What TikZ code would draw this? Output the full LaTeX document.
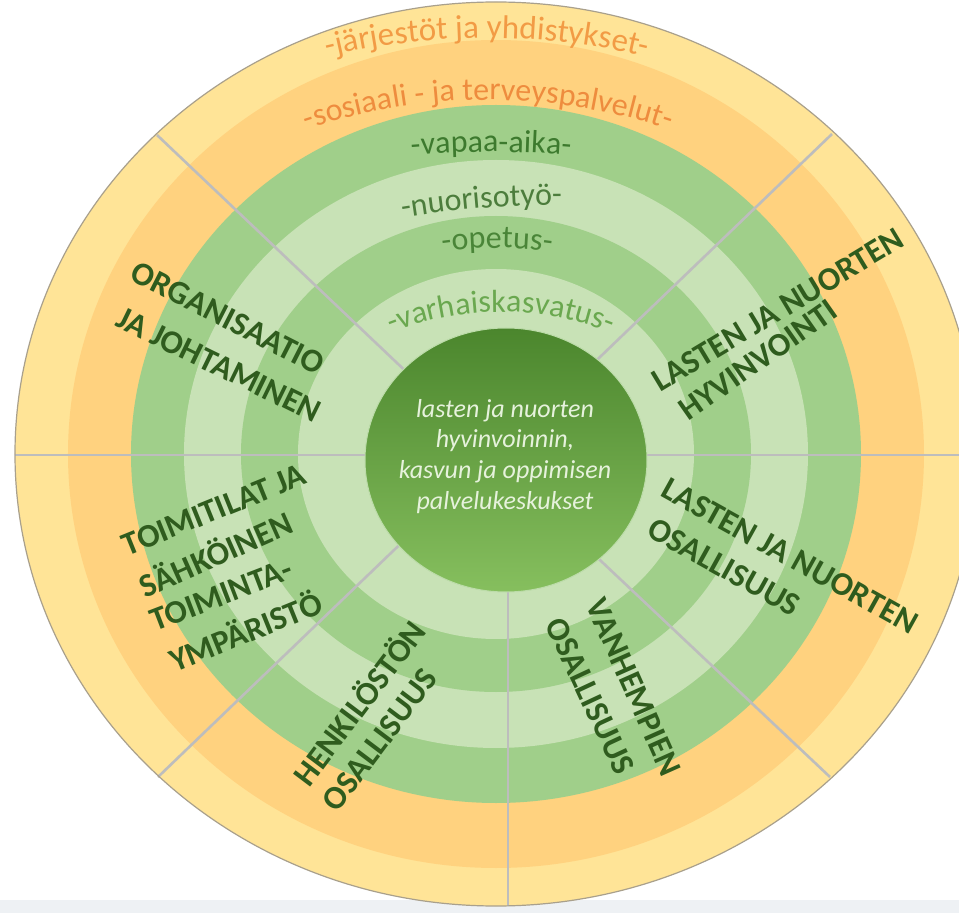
\documentclass[tikz,border=0pt]{standalone}
\usepackage{fontspec}
\setmainfont{Carlito}
\usetikzlibrary{decorations.text}
\definecolor{ylw}{HTML}{FFE497}
\definecolor{org}{HTML}{FFD27F}
\definecolor{dgr}{HTML}{A0CF8A}
\definecolor{lgr}{HTML}{C8E2B6}
\definecolor{divider}{HTML}{BDBDBD}
\definecolor{rim}{HTML}{A9A08C}
\definecolor{strip}{HTML}{EEF1F4}
\definecolor{labgreen}{HTML}{2F5C1E}
\definecolor{ringA}{HTML}{3D7A2E}
\definecolor{ringB}{HTML}{4C7D3C}
\definecolor{ringC}{HTML}{4A8538}
\definecolor{ringD}{HTML}{6AA84F}
\definecolor{orA}{HTML}{F29B45}
\definecolor{orB}{HTML}{EE8C3E}
\definecolor{diskA}{HTML}{4B862D}
\definecolor{diskB}{HTML}{86BF5E}
\definecolor{ctext}{HTML}{E6F2DC}
\newcommand\ringsize{\fontsize{32}{38}\selectfont}
\newcommand\bigring{\fontsize{33}{40}\selectfont}
\tikzset{
 seclab/.style={font=\fontsize{33}{40}\selectfont\bfseries, text=labgreen, inner sep=0pt},
 centre/.style={font=\fontsize{26}{31}\selectfont\itshape, text=ctext, inner sep=0pt, anchor=base},
 divline/.style={draw=divider, line width=2.6pt},
 arctext/.style n args={3}{decorate, decoration={text along path, text align=center, text color=#1, text={|#2|#3}}},
}
\begin{document}
\begin{tikzpicture}[x=1pt,y=1pt]
\useasboundingbox (-496,-459) rectangle (463,454);
\fill[white] (-496,-459) rectangle (463,454);
\fill[strip] (-496,-459) rectangle (463,-446);
% rings
\fill[ylw] (0,0) ellipse [x radius=481, y radius=452];
\fill[org] (0,0) ellipse [x radius=428, y radius=414];
\fill[dgr] (0,0) ellipse [x radius=365, y radius=349];
\fill[lgr] (0,0) ellipse [x radius=312, y radius=294];
\fill[dgr] (0,0) ellipse [x radius=255, y radius=238];
\fill[lgr] (0,0) ellipse [x radius=198, y radius=185];
% dividers
\draw[divline] (-481,-1) -- (0,-1);
\draw[divline] (0,-1) -- (490,-1);
\draw[divline] (-339,319) -- (0,-3);
\draw[divline] (336,320) -- (0,-3);
\draw[divline] (-338,-323) -- (0,2);
\draw[divline] (334,-323) -- (0,-8);
\draw[divline] (12,-452) -- (12,-6);
\draw[rim, line width=1.2pt] (0,0) ellipse [x radius=481, y radius=452];
% centre disk
\shade[top color=diskA, bottom color=diskB, draw=lgr!70!dgr, line width=1pt] (10,-6) ellipse [x radius=141, y radius=132];
% ring texts
\path[arctext={orA}{\bigring}{-järjestöt ja yhdistykset-}] ([shift={(-9,-264)}]110:680) arc[start angle=110, end angle=70, radius=680];
\path[arctext={orB}{\ringsize}{-sosiaali - ja terveyspalvelut-}] ([shift={(-8,-219)}]115:573) arc[start angle=115, end angle=65, radius=573];
\path[arctext={ringA}{\ringsize}{-vapaa-aika-}] ([shift={(-5,-698)}]100:1000) arc[start angle=100, end angle=80, radius=1000];
\path[arctext={ringB}{\ringsize}{-nuorisotyö-}] ([shift={(67.9,-750.6)}]104.7:1000) arc[start angle=104.7, end angle=84.7, radius=1000];
\path[arctext={ringC}{\ringsize}{-opetus-}] ([shift={(1,-194)}]105:400) arc[start angle=105, end angle=75, radius=400];
\path[arctext={ringD}{\ringsize}{-varhaiskasvatus-}] ([shift={(5,-158)}]120:300) arc[start angle=120, end angle=60, radius=300];
% sector labels
\node[seclab, rotate=-27] (org1) at (-268,136) {ORGANISAATIO};
\node[seclab, rotate=-26] (org2) at (-277,89) {JA JOHTAMINEN};
\node[seclab, rotate=31] (hyv1) at (282,144) {LASTEN JA NUORTEN};
\node[seclab, rotate=35] (hyv2) at (262,94) {HYVINVOINTI};
\node[seclab, rotate=-29] (osa1) at (294,-102) {LASTEN JA NUORTEN};
\node[seclab, rotate=-29] (osa2) at (228,-113) {OSALLISUUS};
\node[seclab, rotate=-66] (van1) at (138,-233) {VANHEMPIEN};
\node[seclab, rotate=-65] (van2) at (94,-242) {OSALLISUUS};
\node[seclab, rotate=53] (hen1) at (-138,-248) {HENKILÖSTÖN};
\node[seclab, rotate=53] (hen2) at (-116,-286) {OSALLISUUS};
\node[seclab, rotate=22] (toi1) at (-282,-56) {TOIMITILAT JA};
\node[seclab, rotate=24] (toi2) at (-281,-99) {SÄHKÖINEN};
\node[seclab, rotate=21] (toi3) at (-275,-141) {TOIMINTA-};
\node[seclab, rotate=22] (toi4) at (-251,-176) {YMPÄRISTÖ};
% centre text
\node[centre] (c1) at (9,36) {lasten ja nuorten};
\node[centre] (c2) at (9,6) {hyvinvoinnin,};
\node[centre] (c3) at (9,-24) {kasvun ja oppimisen};
\node[centre] (c4) at (9,-55) {palvelukeskukset};
\end{tikzpicture}
\end{document}
